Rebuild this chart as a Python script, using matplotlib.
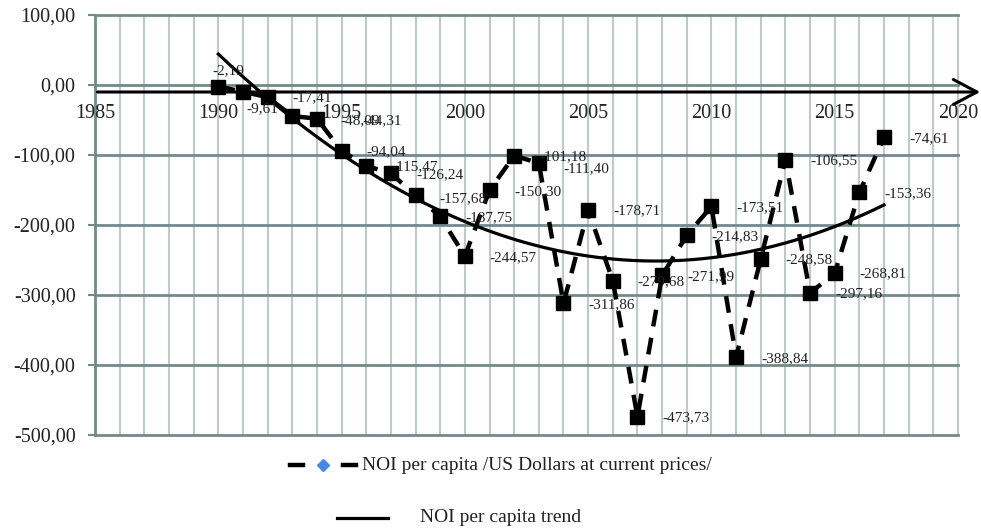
import numpy as np
import matplotlib
matplotlib.use("Agg")
import matplotlib.pyplot as plt
from matplotlib.lines import Line2D

# ---- data ----
years = list(range(1990, 2018))
noi = [-2.19, -9.61, -17.41, -44.31, -48.09, -94.04, -115.47, -126.24,
       -157.68, -187.75, -244.57, -150.30, -101.18, -111.40, -311.86,
       -178.71, -279.68, -473.73, -271.99, -214.83, -173.51, -388.84,
       -248.58, -106.55, -297.16, -268.81, -153.36, -74.61]
x_tick_years = [1985, 1990, 1995, 2000, 2005, 2010, 2015, 2020]
y_ticks = [100, 0, -100, -200, -300, -400, -500]
series_label = "NOI per capita /US Dollars at current prices/"
trend_label = "NOI per capita trend"

# label offsets (pixels) – default right of the point
default_off = (25, -1)
label_off = {1990: (-6, 16), 1991: (3, -17), 1993: (70, -5), 1994: (23, -2),
             1998: (24, -3), 2003: (25, -6)}

W, H = 981, 531
fig = plt.figure(figsize=(W / 100, H / 100), dpi=100)
ax = fig.add_axes([95 / W, 1 - 435 / H, (958 - 95) / W, (435 - 15) / H])
ax.set_xlim(1985, 2020)
ax.set_ylim(-500, 100)

serif = "Liberation Serif"
major_c = "#738a8a"
minor_c = "#bccaca"

# grid
for yr in range(1986, 2021):
    ax.axvline(yr, color=minor_c, lw=1.5, zorder=1, clip_on=False)
for yv in y_ticks:
    ax.axhline(yv, color=major_c, lw=2, zorder=1.5, clip_on=False)

for s in ["top", "right", "bottom"]:
    ax.spines[s].set_visible(False)
ax.spines["left"].set_color(major_c)
ax.spines["left"].set_linewidth(2)

ax.set_yticks(y_ticks)
ax.set_yticklabels([f"{v:.2f}".replace(".", ",") for v in y_ticks],
                   fontfamily=serif, fontsize=14.5, color="#222222")
ax.tick_params(axis="y", length=5, width=1.5, color=major_c, pad=9)
ax.set_xticks([])

# x axis arrow at about -10
ax.annotate("", xy=(2020.9, -10), xytext=(1985.1, -10),
            arrowprops=dict(arrowstyle="->,head_length=0.85,head_width=0.45",
                            lw=2.2, color="black", mutation_scale=20,
                            shrinkA=0, shrinkB=0),
            annotation_clip=False, zorder=3)
for yr in x_tick_years:
    ax.text(yr, -40, str(yr), ha="center", va="center", fontfamily=serif,
            fontsize=14.5, color="#222222", zorder=3)

# trend (2nd order polynomial)
coef = np.polyfit(years, noi, 2)
tx = np.linspace(years[0], years[-1], 200)
ax.plot(tx, np.polyval(coef, tx), color="black", lw=2.3, zorder=4)

# series
ax.plot(years, noi, color="black", lw=3.2, linestyle=(0, (3.8, 2.6)),
        marker="s", markersize=10.5, markerfacecolor="black",
        markeredgecolor="black", zorder=5)

for yr, v in zip(years, noi):
    dx, dy = label_off.get(yr, default_off)
    ax.annotate(f"{v:.2f}".replace(".", ","), (yr, v), xytext=(dx, dy),
                textcoords="offset pixels", ha="left", va="center",
                fontfamily=serif, fontsize=11, color="#222222", zorder=6)

# legend (manual)
def fx(px):
    return px / W

def fy(py):
    return 1 - py / H

ly1 = 465
fig.add_artist(Line2D([fx(290), fx(303)], [fy(ly1), fy(ly1)], color="black",
                      lw=3.2, transform=fig.transFigure))
fig.add_artist(Line2D([fx(343), fx(356)], [fy(ly1), fy(ly1)], color="black",
                      lw=3.2, transform=fig.transFigure))
fig.add_artist(Line2D([fx(323)], [fy(ly1)], marker="D", markersize=6,
                      color="#4a86e8", linestyle="none",
                      transform=fig.transFigure))
fig.text(fx(362), fy(ly1), series_label, ha="left", va="center",
         fontfamily=serif, fontsize=14, color="#222222")
ly2 = 518
fig.add_artist(Line2D([fx(337), fx(388)], [fy(ly2), fy(ly2)], color="black",
                      lw=2.3, transform=fig.transFigure))
fig.text(fx(420), fy(ly2), trend_label, ha="left", va="center",
         fontfamily=serif, fontsize=14, color="#222222")

fig.savefig("out.png", dpi=100)
